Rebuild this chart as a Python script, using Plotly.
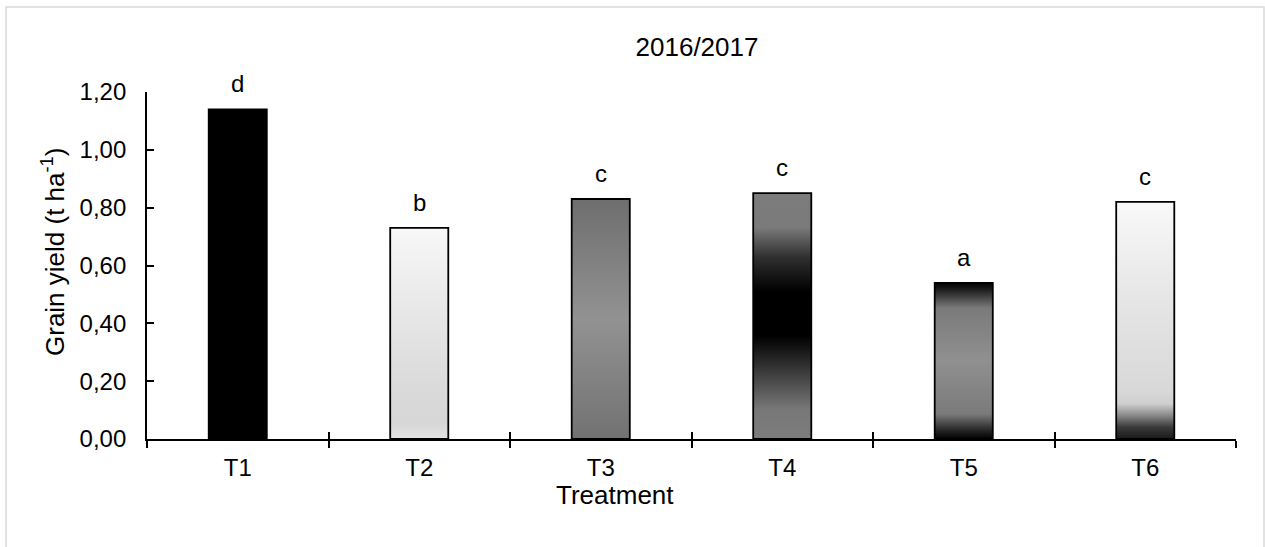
import plotly.graph_objects as go

categories = ["T1", "T2", "T3", "T4", "T5", "T6"]
values = [1.14, 0.73, 0.83, 0.85, 0.54, 0.82]
letters = ["d", "b", "c", "c", "a", "c"]
y_ticks = [0.0, 0.2, 0.4, 0.6, 0.8, 1.0, 1.2]

# vertical gradient colorscales (0 = bottom of bar, 1 = top)
fills = [
    [[0, "#000000"], [1, "#000000"]],
    [[0, "#e2e2e2"], [0.08, "#d6d6d6"], [0.3, "#dcdcdc"], [0.7, "#ebebeb"], [1, "#f8f8f8"]],
    [[0, "#727272"], [0.5, "#929292"], [1, "#6e6e6e"]],
    [[0, "#7c7c7c"], [0.12, "#787878"], [0.3, "#303030"], [0.42, "#000000"],
     [0.6, "#000000"], [0.74, "#303030"], [0.86, "#7a7a7a"], [1, "#7c7c7c"]],
    [[0, "#000000"], [0.05, "#222222"], [0.16, "#7a7a7a"], [0.5, "#909090"],
     [0.84, "#7a7a7a"], [0.95, "#222222"], [1, "#000000"]],
    [[0, "#1a1a1a"], [0.05, "#3a3a3a"], [0.1, "#8a8a8a"], [0.15, "#d0d0d0"],
     [0.2, "#d8d8d8"], [0.6, "#e6e6e6"], [1, "#f9f9f9"]],
]

bar_width = 0.32
FONT = "Arial, Liberation Sans, sans-serif"
FS = 24      # tick labels and letters
FS_T = 26    # titles

fig = go.Figure()
for i, (cat, v) in enumerate(zip(categories, values)):
    x0, x1 = i - bar_width / 2, i + bar_width / 2
    fig.add_trace(go.Scatter(
        x=[x0, x0, x1, x1, x0], y=[0, v, v, 0, 0],
        mode="lines", fill="toself",
        fillgradient=dict(type="vertical", colorscale=fills[i], start=0, stop=v),
        line=dict(color="black", width=1.8),
        name=cat, showlegend=False, hoverinfo="skip",
    ))
    fig.add_annotation(x=i, y=v, text=letters[i], showarrow=False,
                       yanchor="bottom", yshift=10,
                       font=dict(family=FONT, size=FS, color="black"))

# hidden overlay trace for second x-axis (inner tick marks)
fig.add_trace(go.Scatter(x=[None], y=[None], xaxis="x2", showlegend=False))

boundaries = [i - 0.5 for i in range(len(categories) + 1)]

fig.update_layout(
    width=1265, height=547,
    margin=dict(l=147, r=29, t=92, b=108),
    paper_bgcolor="white", plot_bgcolor="white",
    separators=", ",
    font=dict(family=FONT, size=FS, color="black"),
    title=dict(text="2016/2017", x=697 / 1265, xanchor="center",
               y=1 - 47 / 547, yanchor="middle", xref="container", yref="container",
               font=dict(family=FONT, size=FS_T, color="black")),
    xaxis=dict(
        range=[-0.5, len(categories) - 0.5],
        tickvals=list(range(len(categories))), ticktext=categories,
        ticks="", showgrid=False, zeroline=False,
        showline=True, linecolor="black", linewidth=1.8,
        ticklabelstandoff=6,
        minor=dict(tickvals=boundaries, ticks="outside", ticklen=7,
                   tickcolor="black", tickwidth=1.8, showgrid=False),
        tickfont=dict(family=FONT, size=FS, color="black"),
    ),
    xaxis2=dict(
        overlaying="x", matches="x", range=[-0.5, len(categories) - 0.5],
        tickvals=boundaries, ticks="inside", ticklen=7, tickcolor="black",
        tickwidth=1.8, showticklabels=False, showgrid=False, zeroline=False,
        side="bottom", showline=False,
    ),
    yaxis=dict(
        range=[0, 1.2], tickvals=y_ticks, tickformat=".2f",
        ticks="inside", ticklen=7, tickcolor="black", tickwidth=1.8,
        showgrid=False, zeroline=False,
        showline=True, linecolor="black", linewidth=1.8,
        ticklabelstandoff=14,
        tickfont=dict(family=FONT, size=FS, color="black"),
    ),
    shapes=[dict(type="rect", xref="paper", yref="paper",
                 x0=(6 - 147) / 1089, x1=(1264 - 147) / 1089,
                 y0=-1.0, y1=(439 - 7) / 347,
                 line=dict(color="#d9d9d9", width=1.5), fillcolor="rgba(0,0,0,0)",
                 layer="below")],
)

fig.add_annotation(text="Grain yield (t ha<sup>-1</sup>)", xref="paper", yref="paper",
                   x=(53 - 147) / 1089, y=(439 - 252) / 347, textangle=-90,
                   xanchor="center", yanchor="middle", showarrow=False,
                   font=dict(family=FONT, size=FS_T, color="black"))

fig.add_annotation(text="Treatment", xref="paper", yref="paper",
                   x=(615 - 147) / 1089, y=(439 - 495) / 347,
                   xanchor="center", yanchor="middle", showarrow=False,
                   font=dict(family=FONT, size=FS_T, color="black"))

fig.write_html("out.html", config={"displayModeBar": False},
               post_script="document.body.style.margin='0';document.body.style.overflow='hidden';")
